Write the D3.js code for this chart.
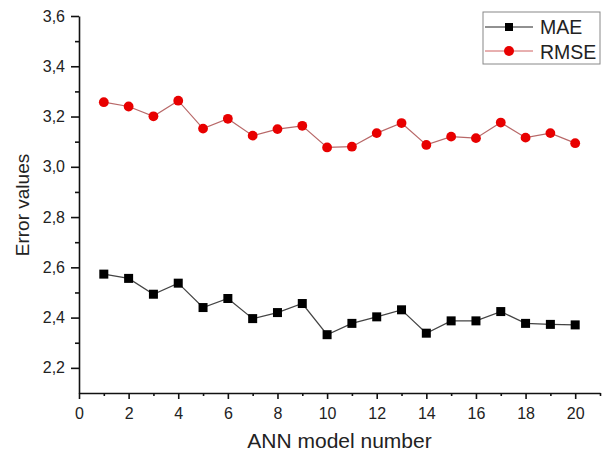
<!DOCTYPE html>
<html>
<head>
<meta charset="utf-8">
<script src="https://cdn.jsdelivr.net/npm/d3@7"></script>
<style>
  body { margin: 0; background: #fff; }
  svg { font-family: "Liberation Sans", Arial, sans-serif; }
</style>
</head>
<body>
<svg id="chart" width="608" height="452"></svg>
<script>
const models = d3.range(1, 21);
const mae = [2.573, 2.556, 2.493, 2.537, 2.440, 2.476, 2.396, 2.420, 2.456, 2.332,
             2.377, 2.403, 2.431, 2.338, 2.387, 2.387, 2.424, 2.377, 2.373, 2.371];
const rmse = [3.257, 3.240, 3.201, 3.263, 3.152, 3.191, 3.124, 3.150, 3.163, 3.077,
              3.080, 3.134, 3.174, 3.087, 3.120, 3.114, 3.176, 3.116, 3.134, 3.094];
const xTicks = d3.range(0, 21, 2);
const xMinor = d3.range(1, 22, 2);
const yTicks = [2.2, 2.4, 2.6, 2.8, 3.0, 3.2, 3.4, 3.6];
const yMinor = [2.3, 2.5, 2.7, 2.9, 3.1, 3.3, 3.5];

const svg = d3.select("#chart");
const x = d3.scaleLinear().domain([0, 21]).range([79, 600]);
const y = d3.scaleLinear().domain([2.1, 3.6]).range([393, 16]);
const fmt = d => d3.format(".1f")(d).replace(".", ",");

// x axis
svg.append("g").attr("transform", "translate(0,393)")
    .call(d3.axisBottom(x).tickValues(xTicks).tickSize(6).tickPadding(9).tickSizeOuter(0).tickFormat(d3.format("d")));
svg.append("g").attr("transform", "translate(0,393)")
    .call(d3.axisBottom(x).tickValues(xMinor).tickSize(3).tickFormat("").tickSizeOuter(0))
    .select(".domain").remove();

// y axis
svg.append("g").attr("transform", "translate(79,0)")
    .call(d3.axisLeft(y).tickValues(yTicks).tickSize(8).tickPadding(6).tickSizeOuter(0).tickFormat(fmt));
svg.append("g").attr("transform", "translate(79,0)")
    .call(d3.axisLeft(y).tickValues(yMinor).tickSize(4).tickFormat("").tickSizeOuter(0))
    .select(".domain").remove();

svg.selectAll(".domain, .tick line").attr("stroke", "#111").attr("stroke-width", 1.6);
svg.selectAll(".tick text").attr("font-size", 16).attr("fill", "#222")
    .attr("font-family", "'Liberation Sans', Arial, sans-serif");

// axis titles
svg.append("text").attr("x", x(10.5)).attr("y", 448).attr("text-anchor", "middle")
    .attr("font-size", 21).attr("fill", "#222").text("ANN model number");
svg.append("text").attr("transform", "translate(29,205) rotate(-90)")
    .attr("text-anchor", "middle").attr("font-size", 19).attr("fill", "#222").text("Error values");

const line = d3.line().x((d, i) => x(models[i])).y(d => y(d));

// MAE
svg.append("path").datum(mae).attr("d", line)
    .attr("fill", "none").attr("stroke", "#444").attr("stroke-width", 1.2);
svg.selectAll("rect.mae").data(mae).enter().append("rect").attr("class", "mae")
    .attr("x", (d, i) => x(models[i]) - 4.5).attr("y", d => y(d) - 4.5)
    .attr("width", 9).attr("height", 9).attr("fill", "#000");

// RMSE
svg.append("path").datum(rmse).attr("d", line)
    .attr("fill", "none").attr("stroke", "#b86868").attr("stroke-width", 1.2);
svg.selectAll("circle.rmse").data(rmse).enter().append("circle").attr("class", "rmse")
    .attr("cx", (d, i) => x(models[i])).attr("cy", d => y(d))
    .attr("r", 4.9).attr("fill", "#e80000");

// legend
const lg = svg.append("g");
lg.append("rect").attr("x", 483).attr("y", 12).attr("width", 117).attr("height", 52)
    .attr("fill", "#fff").attr("stroke", "#888").attr("stroke-width", 1);
lg.append("line").attr("x1", 485).attr("x2", 533).attr("y1", 27).attr("y2", 27).attr("stroke", "#222");
lg.append("rect").attr("x", 505).attr("y", 23).attr("width", 8).attr("height", 8).attr("fill", "#000");
lg.append("text").attr("x", 540).attr("y", 34).attr("font-size", 19.5).attr("fill", "#222").text("MAE");
lg.append("line").attr("x1", 485).attr("x2", 533).attr("y1", 51).attr("y2", 51).attr("stroke", "#d06060");
lg.append("circle").attr("cx", 509).attr("cy", 51).attr("r", 5).attr("fill", "#e80000");
lg.append("text").attr("x", 540).attr("y", 59).attr("font-size", 19.5).attr("fill", "#222").text("RMSE");
</script>
</body>
</html>
